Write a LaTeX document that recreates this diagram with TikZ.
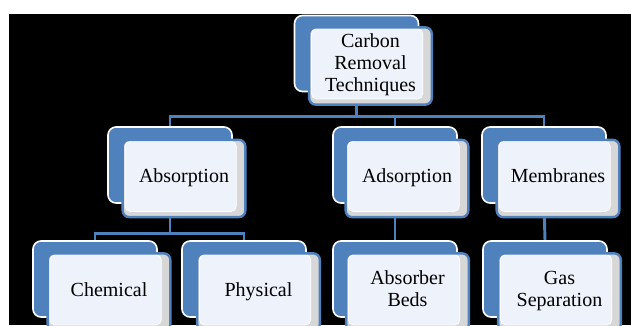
\documentclass[tikz,border=0pt]{standalone}
\usepackage{fontspec}
\setmainfont{Liberation Serif}
\usetikzlibrary{calc}
\pgfdeclarelayer{canvas}
\pgfdeclarelayer{background}
\pgfsetlayers{canvas,background,main}

\definecolor{boxblue}{RGB}{79,129,189}
\definecolor{boxlight}{RGB}{238,242,250}
\definecolor{boxgray}{RGB}{215,215,215}

\tikzset{every picture/.style={line width=0.75pt}}
\tikzset{
  backbox/.style={draw=white, line width=1.2pt, fill=boxblue, rounded corners=6pt,
    minimum width=93pt, minimum height=57pt},
  frontbox/.style={draw=boxblue, line width=1.8pt, fill=boxgray, rounded corners=5pt,
    minimum width=92pt, minimum height=58pt, align=center, inner sep=1pt,
    font=\fontsize{15}{16.5}\selectfont,
    execute at begin node=\strut, execute at end node=\strut,
    path picture={\fill[boxlight, draw=white, line width=0.6pt, rounded corners=4pt]
      ($(path picture bounding box.north west)!2pt!(path picture bounding box.south east)$) rectangle
      ($(path picture bounding box.south east)!8pt!(path picture bounding box.north west)$);}},
  link/.style={draw=boxblue, line width=2.2pt}
}

\begin{document}
\begin{tikzpicture}[x=0.75pt,y=0.75pt,yscale=-1,xscale=1]
                \clip (0,0) rectangle (631,325);
                %Background
                \begin{pgfonlayer}{canvas}
                \fill [white] (0,0) rectangle (631,325);
                \fill [black] (9,14) rectangle (631,325);
                \end{pgfonlayer}

                %Top level
                \node [backbox] (carbon-b) at (356.5,53.5) {};
                \node [frontbox] (carbon) at (370.5,66) {Carbon\\Removal\\Techniques};

                %Second level
                \node [backbox] (absorption-b) at (170,165) {};
                \node [frontbox] (absorption) at (184,178.5) {Absorption};
                \node [backbox] (adsorption-b) at (395,165) {};
                \node [frontbox] (adsorption) at (407,178.5) {Adsorption};
                \node [backbox] (membranes-b) at (544,165) {};
                \node [frontbox] (membranes) at (558,178.5) {Membranes};

                %Third level
                \node [backbox] (chemical-b) at (95,279) {};
                \node [frontbox] (chemical) at (109,292) {Chemical};
                \node [backbox] (physical-b) at (244,279) {};
                \node [frontbox] (physical) at (258.5,292) {Physical};
                \node [backbox] (beds-b) at (395,279) {};
                \node [frontbox] (beds) at (407.5,292) {Absorber\\Beds};
                \node [backbox] (gas-b) at (545,279) {};
                \node [frontbox] (gas) at (559.5,292) {Gas\\Separation};

                %Connectors
                \begin{pgfonlayer}{background}
                \draw [link] (carbon-b.south) -- ++(0,24) -| (absorption-b.north);
                \draw [link] (carbon-b.south) -- ++(0,24) -| (adsorption-b.north);
                \draw [link] (carbon-b.south) -- ++(0,24) -| (membranes-b.north);
                \draw [link] (absorption-b.south) -- ++(0,30) -| (chemical-b.north);
                \draw [link] (absorption-b.south) -- ++(0,30) -| (physical-b.north);
                \draw [link] (adsorption-b.south) -- (beds-b.north);
                \draw [link] (membranes-b.south) -- (gas-b.north);
                \end{pgfonlayer}
\end{tikzpicture}
\end{document}
